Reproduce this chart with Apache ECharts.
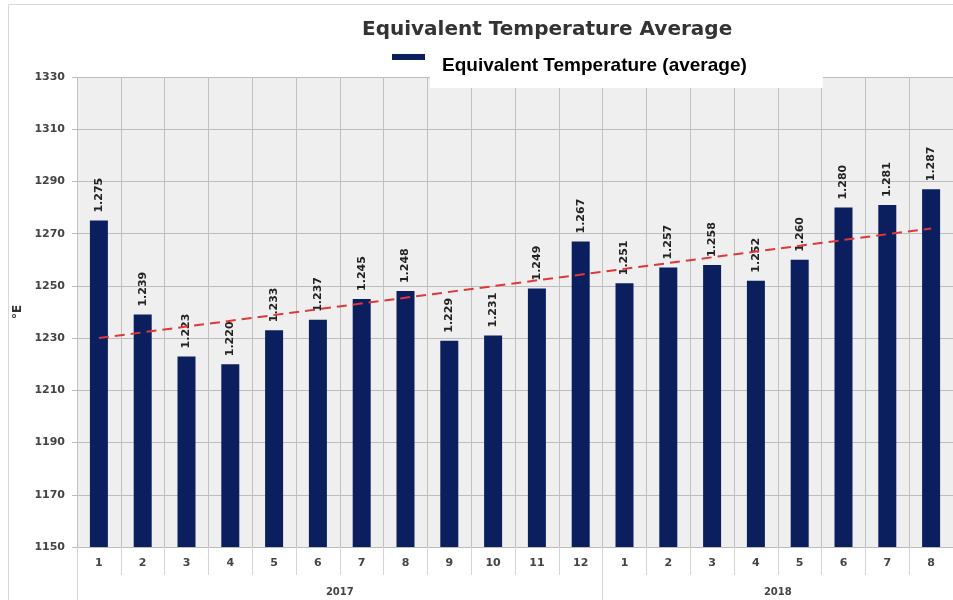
<!DOCTYPE html>
<html>
<head>
<meta charset="utf-8">
<title>Equivalent Temperature Average</title>
<script src="https://cdn.jsdelivr.net/npm/echarts@6/dist/echarts.min.js"></script>
<style>
  html, body { margin: 0; padding: 0; background: #fff; }
  #chart { width: 953px; height: 600px; }
</style>
</head>
<body>
<div id="chart"></div>
<script>
// months shown on the x axis (2017: 1..12, 2018: 1..8)
const months = ['1', '2', '3', '4', '5', '6', '7', '8', '9', '10', '11', '12',
  '1', '2', '3', '4', '5', '6', '7', '8']
const years = ['2017', '2018']
const yearSizes = [12, 8]

// monthly average equivalent temperature
const tempAvg = [1275, 1239, 1223, 1220, 1233, 1237, 1245, 1248, 1229, 1231, 1249, 1267,
  1251, 1257, 1258, 1252, 1260, 1280, 1281, 1287]

// trend line, read at first and last month
const trendStart = 1230
const trendEnd = 1272

const yMin = 1150
const yMax = 1330
const yStep = 20

// year group boundaries / centres on the second axis (in category units)
const yearEdges = [0]
const yearCenters = []
yearSizes.forEach((n, i) => {
  yearCenters.push(yearEdges[i] + n / 2)
  yearEdges.push(yearEdges[i] + n)
})

const chart = echarts.init(document.getElementById('chart'))

// 1275 -> "1.275"
const fmtThousands = v => {
  const s = String(Math.round(v))
  return s.length > 3 ? s.slice(0, -3) + '.' + s.slice(-3) : s
}

const axisFont = {
  fontFamily: 'DejaVu Sans',
  fontWeight: 'bold',
  fontSize: 11,
  color: '#444'
}

const option = {
  backgroundColor: '#fff',
  animation: false,
  title: {
    text: 'Equivalent Temperature Average',
    left: 357,
    top: 15,
    textStyle: {
      fontFamily: 'DejaVu Sans',
      fontWeight: 'bold',
      fontSize: 20,
      color: '#333'
    }
  },
  legend: {
    left: 392,
    top: 44,
    padding: 0,
    itemWidth: 33,
    itemHeight: 24,
    // thin bar at the top of a taller icon box, so the text box sits lower
    icon: 'path://M0,0L33,0L33,6L0,6Z M0,24L0.01,24',
    data: ['Equivalent Temperature (average)'],
    textStyle: {
      fontFamily: 'Liberation Sans',
      fontWeight: 'bold',
      fontSize: 19,
      color: '#000',
      backgroundColor: '#fff',
      padding: [12, 76, 13, 12]
    }
  },
  graphic: [{
    type: 'rect',
    silent: true,
    z: -1,
    shape: { x: 8.5, y: 4.5, width: 1000, height: 700 },
    style: { fill: 'none', stroke: '#d8d8d8', lineWidth: 1 }
  }],
  grid: {
    left: 77,
    top: 77,
    width: 878,
    bottom: 53,
    show: true,
    backgroundColor: '#efefef',
    borderWidth: 0
  },
  xAxis: [{
    type: 'category',
    data: months,
    position: 'bottom',
    axisLine: { show: true, lineStyle: { color: '#bbb' } },
    axisTick: { show: true, interval: 0, length: 28, lineStyle: { color: '#d4d4d4' } },
    axisLabel: Object.assign({ interval: 0, margin: 11 }, axisFont),
    splitLine: { show: true, interval: 0, lineStyle: { color: '#c0c0c0' } }
  }, {
    type: 'value',
    position: 'bottom',
    offset: 28,
    min: 0,
    max: months.length,
    axisLine: { show: false },
    axisTick: {
      show: true,
      customValues: yearEdges,
      length: 26,
      lineStyle: { color: '#d4d4d4' }
    },
    axisLabel: Object.assign({
      customValues: yearCenters,
      margin: 12,
      formatter: v => years[yearCenters.indexOf(v)] || ''
    }, axisFont, { fontSize: 10 }),
    splitLine: { show: false }
  }],
  yAxis: {
    type: 'value',
    min: yMin,
    max: yMax,
    interval: yStep,
    name: '°E',
    nameLocation: 'middle',
    nameGap: 46,
    nameTextStyle: {
      fontFamily: 'DejaVu Sans',
      fontWeight: 'bold',
      fontSize: 12,
      color: '#333'
    },
    axisLine: { show: false },
    axisTick: { show: true, length: 5, lineStyle: { color: '#bbb' } },
    axisLabel: Object.assign({ margin: 12, formatter: v => String(v) }, axisFont),
    splitLine: { show: true, lineStyle: { color: '#bdbdbd' } }
  },
  series: [{
    name: 'Equivalent Temperature (average)',
    type: 'bar',
    xAxisIndex: 0,
    data: tempAvg,
    barWidth: 18,
    itemStyle: { color: '#0b1f5e' },
    label: {
      show: true,
      position: 'top',
      rotate: 90,
      align: 'left',
      verticalAlign: 'middle',
      distance: 8,
      fontFamily: 'DejaVu Sans',
      fontWeight: 'bold',
      fontSize: 11,
      color: '#222',
      formatter: p => fmtThousands(p.value)
    },
    markLine: {
      silent: true,
      symbol: ['none', 'none'],
      label: { show: false },
      lineStyle: { color: '#e0383a', type: [10, 6], width: 2 },
      data: [[
        { coord: [0, trendStart] },
        { coord: [tempAvg.length - 1, trendEnd] }
      ]]
    }
  }]
}

chart.setOption(option)
</script>
</body>
</html>
